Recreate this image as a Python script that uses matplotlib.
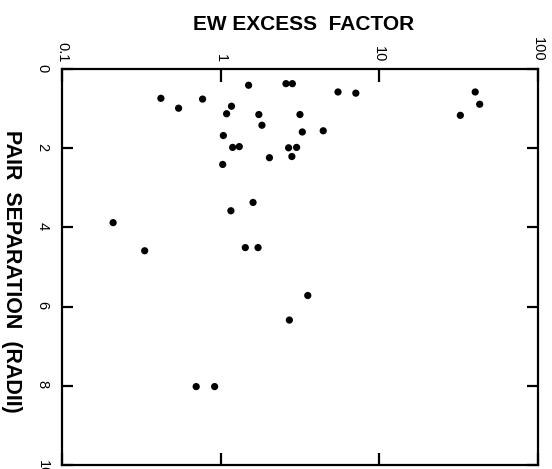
import matplotlib
matplotlib.use("Agg")
import matplotlib.pyplot as plt
from matplotlib.ticker import FixedLocator, NullLocator

plt.rcParams['font.family'] = ['Liberation Sans', 'DejaVu Sans']

# EW excess factor (log) vs pair separation (radii)
ew_excess = [1.50, 2.58, 2.83, 5.49, 7.11, 0.420, 0.769, 0.543, 1.17, 1.09,
             1.74, 3.16, 1.82, 1.04, 3.27, 4.43, 1.19, 1.31, 2.68, 3.01,
             2.81, 2.03, 1.03, 1.60, 1.16, 0.210, 0.332, 1.43, 1.72, 3.54,
             2.71, 0.701, 0.916, 40.2, 42.9, 32.4]
separation = [0.41, 0.37, 0.37, 0.58, 0.61, 0.74, 0.76, 0.99, 0.94, 1.13,
              1.15, 1.15, 1.42, 1.68, 1.59, 1.56, 1.98, 1.96, 1.99, 1.98,
              2.21, 2.24, 2.41, 3.37, 3.58, 3.88, 4.59, 4.51, 4.51, 5.72,
              6.34, 8.02, 8.02, 0.58, 0.89, 1.17]

x_ticks = [0.1, 1, 10, 100]
x_labels = ["0.1", "1", "10", "100"]
y_ticks = [0, 2, 4, 6, 8, 10]

fig = plt.figure(figsize=(5.52, 4.69), dpi=100)
ax = fig.add_axes([62/552, 4/469, 476/552, 396/469])

ax.scatter(ew_excess, separation, s=27, color='black', edgecolors='none', zorder=3)

ax.set_xscale('log')
ax.set_xlim(0.1, 100)
ax.set_ylim(10, 0)

ax.xaxis.set_major_locator(FixedLocator(x_ticks))
ax.xaxis.set_minor_locator(NullLocator())
ax.set_xticklabels(x_labels)
ax.set_yticks(y_ticks)
ax.set_yticklabels([str(v) for v in y_ticks])

ax.tick_params(axis='x', which='major', direction='in', length=9, width=1.6,
               top=True, bottom=True, labeltop=True, labelbottom=False,
               labelrotation=-90, labelsize=10.5, pad=5)
ax.tick_params(axis='y', which='major', direction='in', length=8, width=1.6,
               left=True, right=True, labelleft=True, labelright=False,
               labelrotation=-90, labelsize=10.5, pad=9)

for sp in ax.spines.values():
    sp.set_linewidth(1.6)

fig.text(304/552, 1 - 25/469, "EW EXCESS  FACTOR", ha='center', va='center',
         fontsize=15, fontweight='bold')
fig.text(11/552, 1 - 271/469, "PAIR  SEPARATION  (RADII)", ha='center', va='center',
         rotation=-90, fontsize=15.5, fontweight='bold')

fig.savefig("out.png", dpi=100)
